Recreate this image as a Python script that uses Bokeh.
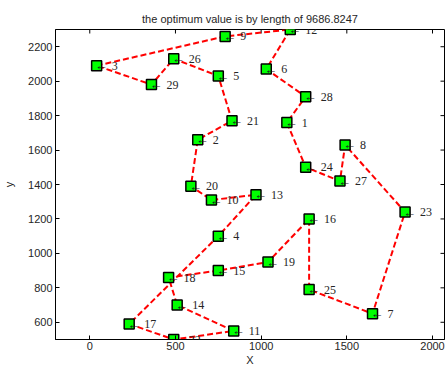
from bokeh.plotting import figure
from bokeh.models import Range1d, ColumnDataSource, LabelSet, FixedTicker, Title
from bokeh.embed import file_html
from bokeh.resources import INLINE

# bays29 city coordinates (city ids 1..29)
city_id = list(range(1, 30))
city_x = [1150, 630, 40, 750, 750, 1030, 1650, 1490, 790, 710, 840, 1170, 970, 510, 750,
          1280, 230, 460, 1040, 590, 830, 490, 1840, 1260, 1280, 490, 1460, 1260, 360]
city_y = [1760, 1660, 2090, 1100, 2030, 2070, 650, 1630, 2260, 1310, 550, 2300, 1340, 700, 900,
          1200, 590, 860, 950, 1390, 1770, 500, 1240, 1500, 790, 2130, 1420, 1910, 1980]
tour = [3, 9, 12, 6, 28, 1, 24, 27, 8, 23, 7, 25, 16, 19, 15, 18, 14, 11, 22, 17,
        4, 13, 10, 20, 2, 21, 5, 26, 29, 3]
x_ticks = [0, 500, 1000, 1500, 2000]
y_ticks = [600, 800, 1000, 1200, 1400, 1600, 1800, 2000, 2200]
title_text = "the optimum value is by length of 9686.8247"

FONT = "Liberation Sans"
TXT = "#262626"
X0, X1, Y0, Y1 = -200, 2070, 500, 2300

p = figure(width=445, height=369, output_backend="svg", toolbar_location=None,
           x_range=Range1d(X0, X1), y_range=Range1d(Y0, Y1),
           min_border_left=52, min_border_right=1, min_border_top=29, min_border_bottom=30,
           x_axis_label="X", y_axis_label="y")
p.title = Title(text=title_text, align="center", text_font=FONT, text_font_size="11px",
                text_font_style="normal", text_color=TXT, standoff=9)
p.xgrid.visible = False
p.ygrid.visible = False
p.outline_line_color = "black"
p.outline_line_alpha = 1.0
p.background_fill_color = "white"
p.border_fill_color = "white"

for ax, ticks in ((p.xaxis[0], x_ticks), (p.yaxis[0], y_ticks)):
    ax.ticker = FixedTicker(ticks=ticks)
    ax.minor_tick_line_color = None
    ax.major_tick_in = 4
    ax.major_tick_out = 0
    ax.major_label_text_font = FONT
    ax.major_label_text_font_size = "11px"
    ax.major_label_text_color = TXT
    ax.axis_label_text_font = FONT
    ax.axis_label_text_font_size = "11px"
    ax.axis_label_text_font_style = "normal"
    ax.axis_label_text_color = TXT
    ax.axis_line_color = "black"
    ax.major_tick_line_color = "black"
p.xaxis[0].major_label_standoff = 2
p.xaxis[0].axis_label_standoff = 1
p.yaxis[0].major_label_standoff = 3
p.yaxis[0].axis_label_standoff = 10

# inward tick marks on the top and right edges of the box (half of each dash is clipped)
p.scatter(x_ticks, [Y1] * len(x_ticks), marker="dash", angle=1.5708, size=8,
          line_color="black", line_width=1)
p.scatter([X1] * len(y_ticks), y_ticks, marker="dash", size=8,
          line_color="black", line_width=1)

tx = [city_x[i - 1] for i in tour]
ty = [city_y[i - 1] for i in tour]
p.line(tx, ty, line_color="red", line_width=2, line_dash="6 3")

src = ColumnDataSource(dict(x=city_x, y=city_y,
                            arrow=["\u2190"] * len(city_id),
                            lab=[str(i) for i in city_id]))
p.scatter("x", "y", source=src, marker="square", size=10, fill_color="#00ff00",
          line_color="black", line_width=1.5)
arrows = LabelSet(x="x", y="y", text="arrow", source=src, x_offset=-2, y_offset=0,
                  text_font="DejaVu Sans", text_font_size="13px", text_color="#1a1a1a",
                  text_baseline="middle", text_align="left")
labels = LabelSet(x="x", y="y", text="lab", source=src, x_offset=15, y_offset=0,
                  text_font=FONT, text_font_size="12px", text_color=TXT,
                  text_baseline="middle", text_align="left")
p.add_layout(arrows)
p.add_layout(labels)

open("out.html", "w").write(file_html(p, INLINE))
